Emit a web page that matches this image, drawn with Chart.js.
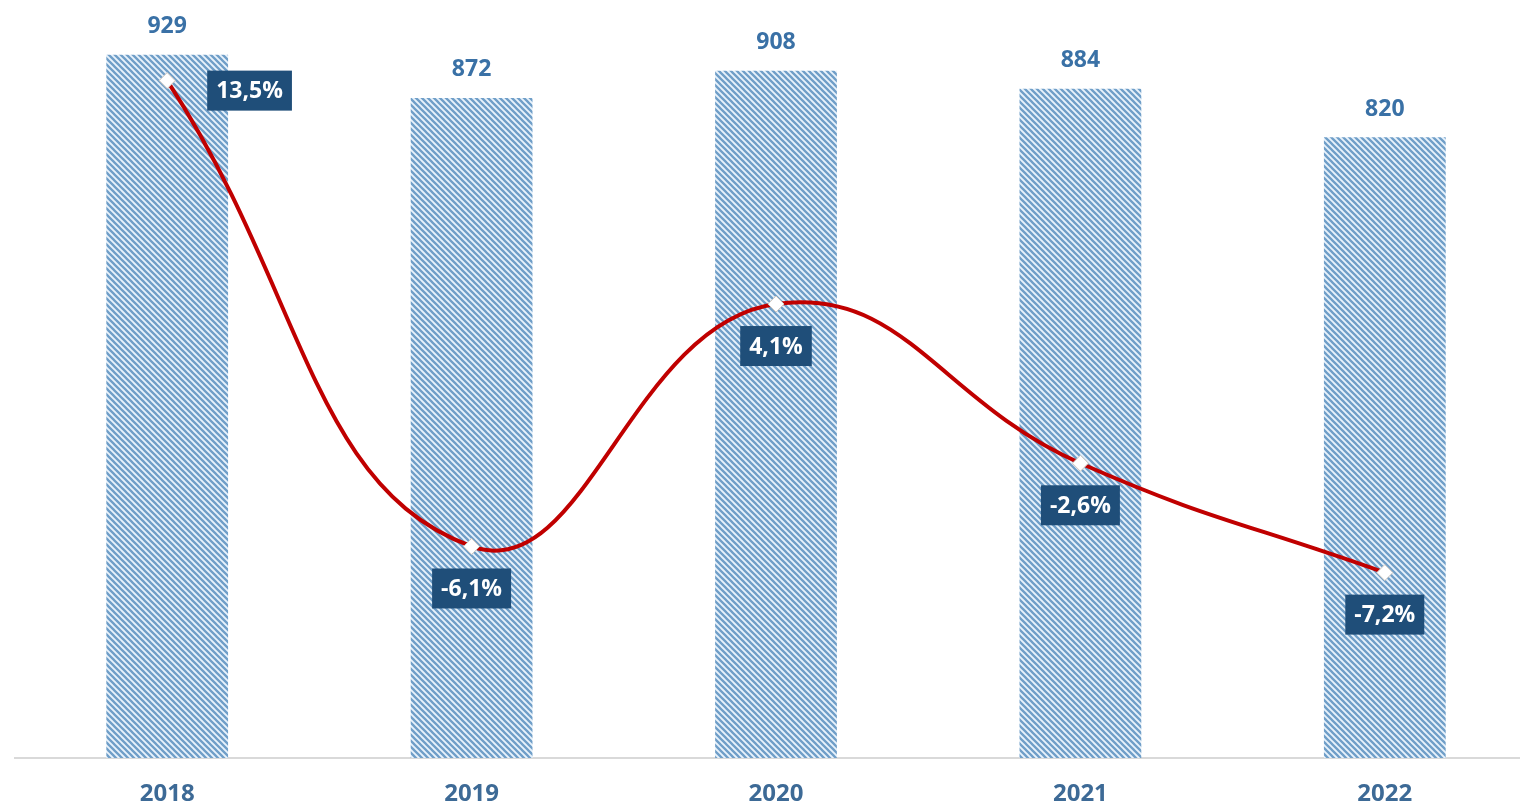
<!DOCTYPE html>
<html>
<head>
<meta charset="utf-8">
<script src="https://cdn.jsdelivr.net/npm/chart.js@4/dist/chart.umd.min.js"></script>
<style>
  html, body { margin: 0; padding: 0; background: #fff; overflow: hidden; }
  #wrap { width: 1540px; height: 805px; position: relative; }
</style>
</head>
<body>
<div id="wrap"><canvas id="combo"></canvas></div>
<script>
const years = ['2018', '2019', '2020', '2021', '2022'];
const totals = [929, 872, 908, 884, 820];
const growth = [13.5, -6.1, 4.1, -2.6, -7.2];

const valueFont = 'bold 23px "Open Sans", sans-serif';
const pctFont = 'bold 23px "Open Sans", sans-serif';

// diagonal hatch fill for the bars
function makeHatch() {
    const c = document.createElement('canvas');
    c.width = 6; c.height = 6;
    const g = c.getContext('2d');
    g.fillStyle = '#e8f2fb';
    g.fillRect(0, 0, 6, 6);
    g.strokeStyle = '#6f9ec8';
    g.lineWidth = 2.3;
    g.beginPath();
    g.moveTo(-1, -1); g.lineTo(7, 7);
    g.moveTo(-4, 2); g.lineTo(4, 10);
    g.moveTo(2, -4); g.lineTo(10, 4);
    g.stroke();
    return g.createPattern(c, 'repeat');
}

const hatch = makeHatch();

// draws the value labels and the boxed percentages
const labelPlugin = {
    id: 'labels',
    afterDatasetsDraw(chart) {
        const ctx = chart.ctx;
        ctx.save();
        ctx.textAlign = 'center';
        ctx.textBaseline = 'middle';

        ctx.font = valueFont;
        chart.getDatasetMeta(1).data.forEach((bar, i) => {
            ctx.fillStyle = '#3a71a6';
            ctx.fillText(totals[i], bar.x, bar.y - 28);
        });

        ctx.font = pctFont;
        chart.getDatasetMeta(0).data.forEach((pt, i) => {
            const txt = growth[i].toFixed(1).replace('.', ',') + '%';
            const w = ctx.measureText(txt).width + 18;
            const h = 40;
            let cx = pt.x, cy = pt.y + 42;
            if (i === 0) { cx = pt.x + 40 + w / 2; cy = pt.y + 10; }
            ctx.fillStyle = '#1f4e79';
            ctx.fillRect(cx - w / 2, cy - h / 2, w, h);
            ctx.fillStyle = '#ffffff';
            ctx.fillText(txt, cx, cy + 1);
        });
        ctx.restore();
    }
};

new Chart(document.getElementById('combo'), {
    data: {
        labels: years,
        datasets: [
            {
                type: 'line',
                label: 'Growth',
                data: growth,
                yAxisID: 'y2',
                borderColor: '#c00000',
                borderWidth: 4,
                tension: 0.45,
                pointStyle: 'rectRot',
                pointRadius: 8,
                pointBackgroundColor: '#ffffff',
                pointBorderColor: '#d0c8c0',
                pointBorderWidth: 1,
                order: 0
            },
            {
                type: 'bar',
                label: 'Total',
                data: totals,
                yAxisID: 'y',
                backgroundColor: hatch,
                barPercentage: 0.4,
                categoryPercentage: 1,
                order: 1
            }
        ]
    },
    options: {
        responsive: true,
        maintainAspectRatio: false,
        animation: false,
        layout: { autoPadding: false, padding: { left: 15, right: 3, top: 1, bottom: 0 } },
        plugins: {
            legend: { display: false },
            tooltip: { enabled: false }
        },
        scales: {
            x: {
                grid: { display: false, drawTicks: false },
                border: { display: true, color: '#d9d9d9', width: 2 },
                ticks: {
                    color: '#3d6a96',
                    font: { family: '"Open Sans", sans-serif', size: 24, weight: 'bold' },
                    padding: 22
                },
                afterFit(scale) { scale.height = 47; }
            },
            y: {
                display: false,
                min: 0,
                max: 1000
            },
            y2: {
                display: false,
                position: 'right',
                min: -15,
                max: 16.85
            }
        }
    },
    plugins: [labelPlugin]
});
</script>
</body>
</html>
